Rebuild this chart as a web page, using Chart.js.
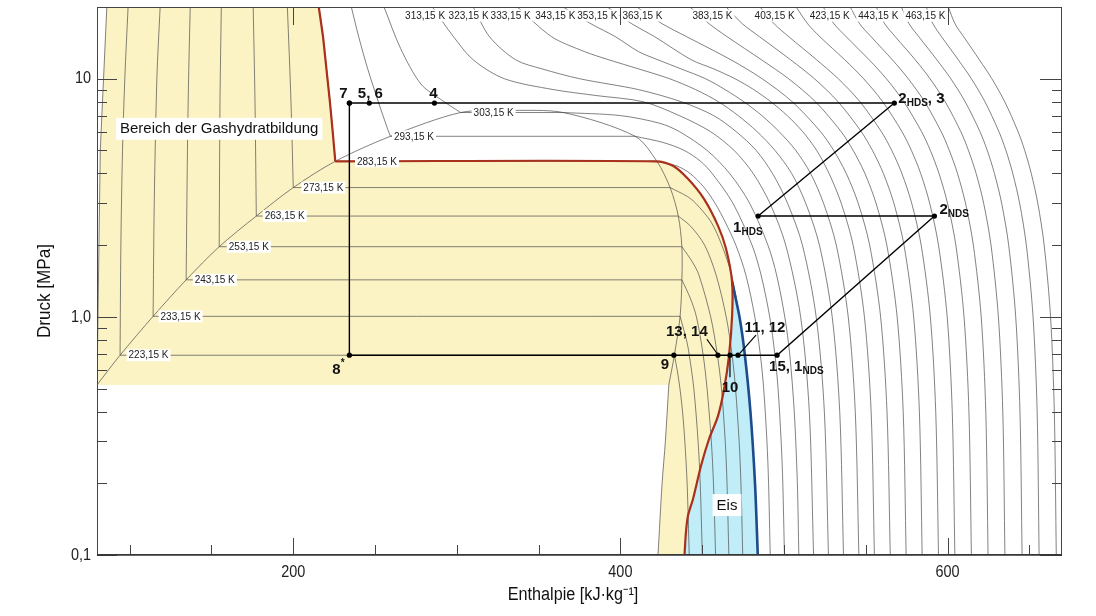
<!DOCTYPE html>
<html>
<head>
<meta charset="utf-8">
<script src="https://cdn.jsdelivr.net/npm/chart.js@4.4.1/dist/chart.umd.min.js"></script>
<style>
  html, body { margin: 0; padding: 0; background: #fff; }
</style>
</head>
<body>
<canvas id="chart" width="1096" height="616"></canvas>
<script>
// axis ticks
const xTicks = [200, 400, 600];
const xMinorTicks = [100, 150, 250, 300, 350, 450, 500, 550, 650];
const yTicks = [0.1, 1, 10];
const yTickLabels = ['0,1', '1,0', '10'];
const yMinorTicks = [0.2, 0.3, 0.4, 0.5, 0.6, 0.7, 0.8, 0.9, 2, 3, 4, 5, 6, 7, 8, 9];

// phase boundaries, points are [enthalpy kJ/kg, pressure MPa]
const satLiquid = [[80, 0.518], [94.1, 0.69], [114.3, 1.005], [134.5, 1.43], [154.7, 1.97], [177.4, 2.65], [200, 3.49], [225.7, 4.5], [259.4, 5.73], [302.3, 7.21], [332, 7.377]];
const satVapour = [[332, 7.377], [365, 7.21], [409, 5.73], [422.3, 4.5], [430.4, 3.49], [435.4, 2.65], [437.6, 1.97], [437.6, 1.43], [436.5, 1.005], [433, 0.69], [429.6, 0.518]];
const sublimation = [[429.6, 0.518], [427.5, 0.3], [425.5, 0.2], [423, 0.1]];
const meltLine = [[80, 0.518], [82, 5], [86, 20]];
const hydrateLine = [[215.6, 20], [218.2, 15], [220.9, 10], [222.4, 8], [224.1, 6], [225.7, 4.5], [421.7, 4.5], [432.1, 4.31], [441.3, 3.8], [451.1, 3.13], [459.7, 2.41], [464.6, 1.93], [468.3, 1.40], [468.3, 1.01], [466.4, 0.686], [463.4, 0.498], [459.7, 0.384], [454.2, 0.307], [449.3, 0.237], [444.4, 0.172], [441.3, 0.146], [440.1, 0.125], [439.2, 0.1]];
const iceLine = [[468.3, 1.40], [472.8, 1.0], [476, 0.7], [479.5, 0.4], [482.3, 0.2], [484, 0.1]];

// subcritical isotherms 223,15 ... 303,15 K: liquid branch, vapour branch
const liq223 = [[99, 20], [97, 10], [95.6, 5], [94.6, 2], [94.1, 0.69]];
const liq233 = [[118.6, 20], [116.6, 10], [115, 3], [114.3, 1.005]];
const liq243 = [[137, 20], [136, 10], [135.3, 5], [134.5, 1.43]];
const liq253 = [[156, 20], [155.2, 8], [154.7, 1.97]];
const liq263 = [[175.5, 20], [176.6, 8], [177.4, 2.65]];
const liq273 = [[196.4, 20], [198.6, 8], [200, 3.49]];
const liq283 = [[215.6, 20], [218.2, 15], [220.9, 10], [222.4, 8], [224.1, 6], [225.7, 4.5]];
const liq293 = [[235.5, 20], [240, 15], [245.5, 11], [252, 8], [257.5, 6.2], [259.4, 5.73]];
const liq303 = [[255.5, 20], [265.6, 13.4], [278, 9.5], [290, 8.2], [302.3, 7.21]];

const vap223 = [[433, 0.69], [434.7, 0.6], [436.4, 0.5], [438, 0.4], [439.4, 0.3], [440.8, 0.2], [442.1, 0.1]];
const vap233 = [[436.5, 1.005], [440.4, 0.8], [442, 0.7], [444.9, 0.5], [447.5, 0.3], [448.8, 0.2], [450.1, 0.1]];
const vap243 = [[437.6, 1.43], [442.7, 1.2], [446.5, 1], [450.5, 0.7], [453, 0.5], [455.6, 0.3], [456.9, 0.2], [458.2, 0.1]];
const vap253 = [[437.6, 1.97], [444, 1.7], [448, 1.5], [455.2, 1], [459.2, 0.7], [461.8, 0.5], [464.1, 0.3], [465.2, 0.2], [466.3, 0.1]];
const vap263 = [[435.4, 2.65], [443, 2.4], [451.5, 2], [458.5, 1.5], [464.7, 1], [468.2, 0.7], [470.4, 0.5], [472.6, 0.3], [473.7, 0.2], [474.8, 0.1]];
const vap273 = [[430.4, 3.49], [441, 3.2], [446, 3], [455.5, 2.5], [462, 2], [468, 1.5], [472.8, 1], [476, 0.7], [478.3, 0.5], [480.8, 0.3], [482.3, 0.2], [484, 0.1]];
const vap283 = [[422.3, 4.5], [434.6, 4.3], [442.6, 4], [451.1, 3.5], [457.9, 3], [464.1, 2.5], [470.6, 2], [476.7, 1.5], [482.2, 1], [485.5, 0.7], [487.6, 0.5], [489.6, 0.3], [490.6, 0.2], [491.6, 0.1]];
const vap293 = [[409, 5.73], [426, 5.4], [439, 5], [449, 4.5], [456.1, 4], [468.8, 3], [480.5, 2], [486, 1.5], [491.3, 1], [494.4, 0.7], [496.4, 0.5], [498.3, 0.3], [499.3, 0.2], [500.3, 0.1]];
const vap303 = [[365, 7.21], [400, 7], [424, 6.5], [436, 6], [453, 5], [466.8, 4], [479, 3], [490.2, 2], [495.5, 1.5], [500.5, 1], [503.5, 0.7], [506.3, 0.4], [508.2, 0.2], [509.1, 0.1]];

// supercritical isotherms 313,15 ... 353,15 K
const sc313 = [[285, 20], [298, 15], [310, 12], [329, 10], [359, 9], [385, 8.5], [414, 8], [436, 7], [455, 6], [469.5, 5], [481.2, 4], [491.4, 3], [501.1, 2], [510.2, 1], [515.5, 0.4], [518.1, 0.1]];
const sc323 = [[310, 20], [320, 15], [336, 12], [352, 11], [375, 10], [411, 9], [437.3, 8], [457, 7], [470.7, 6], [483, 5], [493, 4], [502.2, 3], [511.3, 2], [519.7, 1], [524.7, 0.4], [527.2, 0.1]];
const sc333 = [[337, 20], [358, 15], [378, 13], [393, 12], [411, 11], [430, 10], [446, 9], [460, 8], [472, 7], [483.5, 6], [494.5, 5], [504.7, 4], [513.3, 3], [521.7, 2], [529.5, 1], [534.1, 0.4], [536.4, 0.1]];
const sc343 = [[365, 20], [382, 17], [397, 15], [411, 13], [423, 12], [437, 11], [452, 10], [464, 9], [475.5, 8], [486.5, 7], [497, 6], [507.2, 5], [516.3, 4], [524.2, 3], [532, 2], [539.3, 1], [543.6, 0.4], [545.8, 0.1]];
const sc353 = [[392, 20], [407, 17], [421, 15], [443.4, 12], [457, 11], [470, 10], [481.5, 9], [492, 8], [502, 7], [511.4, 6], [520, 5], [527.6, 4], [535, 3], [542.3, 2], [549.2, 1], [553.3, 0.4], [555.3, 0.1]];

// supercritical isotherms 363,15 ... 463,15 K, enthalpy at these pressures
const scPressures = [20, 17, 15, 12, 10, 8, 6, 5, 4, 3, 2, 1, 0.4, 0.1];
const h363 = [410, 425.6, 440.6, 467.6, 486.6, 505.1, 522.3, 530.4, 538.1, 545.4, 552.4, 559.1, 563, 565];
const h373 = [442.5, 454.3, 465.3, 486.3, 502.8, 519.3, 534.9, 542.3, 549.5, 556.3, 562.9, 569.2, 572.9, 574.7];
const h383 = [464.6, 474.6, 485.1, 504.1, 518.6, 533.1, 547.2, 554.1, 560.8, 567.2, 573.4, 579.3, 582.8, 584.5];
const h393 = [485.4, 494, 503, 520, 533.2, 546.5, 559.5, 565.9, 572.1, 578.1, 583.9, 589.5, 592.8, 594.5];
const h403 = [507.5, 514.5, 522, 537.2, 548.7, 560.4, 572.1, 577.9, 583.6, 589.1, 594.5, 599.8, 602.9, 604.5];
const h413 = [524, 530.6, 538.1, 552.1, 562.6, 573.3, 584.1, 589.5, 594.8, 600, 605.1, 610.1, 613.1, 614.6];
const h423 = [540.5, 546.3, 553.3, 566.3, 576, 586, 596.1, 601.1, 606.1, 611, 615.8, 620.6, 623.4, 624.8];
const h433 = [556.4, 561.6, 568.1, 580.3, 589.3, 598.6, 608.1, 612.8, 617.5, 622.1, 626.6, 631.1, 633.8, 635.1];
const h443 = [571.8, 576.5, 582.5, 593.5, 602, 610.8, 619.8, 624.3, 628.7, 633.1, 637.4, 641.7, 644.3, 645.6];
const h453 = [587, 591.1, 596.4, 606.6, 614.6, 622.9, 631.4, 635.7, 639.9, 644.1, 648.2, 652.3, 654.8, 656];
const h463 = [600.5, 604.6, 609.9, 619.5, 627.1, 635, 643.1, 647.2, 651.2, 655.2, 659.1, 663, 665.3, 666.5];

// process cycle, state points in drawing order (last one closes the loop)
const cycleH = [234.3, 246.5, 286.3, 567.5, 484.2, 592, 495.8, 471.9, 467, 459.6, 432.7, 234.3, 234.3];
const cycleP = [7.9, 7.9, 7.9, 7.9, 2.65, 2.65, 0.69, 0.69, 0.69, 0.69, 0.69, 0.69, 7.9];

// isotherm labels
const isoLabelText = ['223,15 K', '233,15 K', '243,15 K', '253,15 K', '263,15 K', '273,15 K', '283,15 K', '293,15 K', '303,15 K',
  '313,15 K', '323,15 K', '333,15 K', '343,15 K', '353,15 K', '363,15 K', '383,15 K', '403,15 K', '423,15 K', '443,15 K', '463,15 K'];
const isoLabelH = [111.5, 131.1, 152.0, 172.8, 194.8, 218.4, 251.2, 273.8, 322.5,
  280.6, 307.2, 332.9, 360.2, 385.9, 413.5, 456.3, 494.3, 528, 557.7, 586.5];
const isoLabelP = [0.69, 1.005, 1.43, 1.97, 2.65, 3.49, 4.5, 5.73, 7.21,
  18.4, 18.4, 18.4, 18.4, 18.4, 18.4, 18.4, 18.4, 18.4, 18.4, 18.4];

const regionText = ['Bereich der Gashydratbildung', 'Eis'];
const regionH = [154.7, 465.2];
const regionP = [6.16, 0.162];

const SANS = '"Liberation Sans", Arial, sans-serif';
const ISO = 'rgba(70,70,70,0.85)';
const RED = '#a8301c';
const BLUE = '#1c4c8c';

const datasets = [];
const toXY = arr => arr.map(([h, p]) => ({ x: h, y: p }));
function curve(arr, opts) {
    datasets.push(Object.assign({
        data: toXY(arr),
        showLine: true,
        pointRadius: 0,
        borderColor: ISO,
        borderWidth: 0.8,
        tension: 0.3,
        fill: false,
        order: 5
    }, opts || {}));
}

// filled areas
curve([...meltLine, ...hydrateLine, ...sublimation.slice().reverse(), meltLine[0]],
    { fill: 'shape', backgroundColor: '#fcf3c4', borderColor: 'rgba(0,0,0,0)', borderWidth: 0, tension: 0, order: 20 });
curve([...hydrateLine.slice(12), ...iceLine.slice().reverse()],
    { fill: 'shape', backgroundColor: '#c0edf7', borderColor: 'rgba(0,0,0,0)', borderWidth: 0, tension: 0, order: 19 });

// saturation lines
curve(satLiquid);
curve(satVapour);
curve(sublimation);
curve(meltLine, { tension: 0 });

// isotherms
const subLiquid = [liq223, liq233, liq243, liq253, liq263, liq273, liq283, liq293, liq303];
const subVapour = [vap223, vap233, vap243, vap253, vap263, vap273, vap283, vap293, vap303];
subLiquid.forEach((liq, i) => {
    const vap = subVapour[i];
    curve(liq);
    curve([liq[liq.length - 1], vap[0]], { tension: 0 });
    curve(vap);
});
[sc313, sc323, sc333, sc343, sc353].forEach(a => curve(a));
[h363, h373, h383, h393, h403, h413, h423, h433, h443, h453, h463].forEach(hs => {
    curve(hs.map((h, j) => [h, scPressures[j]]));
});

// hydrate and ice boundaries
curve(hydrateLine.slice(0, 6), { borderColor: RED, borderWidth: 2.2, tension: 0, order: 3 });
curve(hydrateLine.slice(5), { borderColor: RED, borderWidth: 2.2, tension: 0.3, order: 3 });
curve(iceLine, { borderColor: BLUE, borderWidth: 2.6, order: 3 });

// process
datasets.push({
    data: cycleH.map((h, i) => ({ x: h, y: cycleP[i] })),
    showLine: true,
    borderColor: '#000',
    borderWidth: 1.4,
    tension: 0,
    pointRadius: 2.6,
    pointBackgroundColor: '#000',
    pointBorderWidth: 0,
    order: 1
});

// text pieces: [text, kind] kind 0 normal, 1 subscript, 2 superscript
const cycleLabelParts = [
    [['7']], [['5, 6']], [['4']], [['2'], ['HDS', 1], [', 3']], [['1'], ['HDS', 1]], [['2'], ['NDS', 1]],
    [['15, 1'], ['NDS', 1]], [['11, 12']], [['10']], [['13, 14']], [['9']], [['8'], ['*', 2]]
];
const cycleLabelPlace = [[-6, -5, 'c'], [1, -5, 'c'], [-1, -5, 'c'], [4, 0, 'l'], [-25, 16, 'l'], [5, -2, 'l'],
    [-8, 16, 'l'], [27, -23, 'c'], [0, 37, 'c'], [-31, -19, 'c'], [-9, 14, 'c'], [-17, 19, 'l']];
const leaders = [[9, -11, -16, -1, -2], [7, 18, -20, 2, -2], [8, 0, 2, 0, 22]];

function drawParts(ctx, parts, x, y, align) {
    const big = 'bold 15px ' + SANS;
    const small = 'bold 10px ' + SANS;
    let w = 0;
    parts.forEach(([t, k]) => { ctx.font = k ? small : big; w += ctx.measureText(t).width; });
    let cx = align === 'c' ? x - w / 2 : x;
    ctx.textAlign = 'left';
    ctx.textBaseline = 'alphabetic';
    parts.forEach(([t, k]) => {
        ctx.font = k ? small : big;
        const dy = k === 1 ? 3 : (k === 2 ? -8 : 0);
        ctx.fillText(t, cx, y + dy);
        cx += ctx.measureText(t).width;
    });
}

// condensed text (the axis font of the original is a narrow sans)
function narrowText(ctx, t, x, y, align, squeeze) {
    ctx.save();
    ctx.translate(x, y);
    ctx.scale(squeeze, 1);
    ctx.textAlign = align;
    ctx.fillText(t, 0, 0);
    ctx.restore();
}

const decor = {
    id: 'decor',
    afterDatasetsDraw(chart) {
        const { ctx, chartArea: a, scales: { x, y } } = chart;
        ctx.save();

        // isotherm labels
        ctx.font = '10px ' + SANS;
        ctx.textAlign = 'center';
        ctx.textBaseline = 'middle';
        isoLabelText.forEach((t, i) => {
            const px = x.getPixelForValue(isoLabelH[i]);
            const py = y.getPixelForValue(isoLabelP[i]);
            const w = ctx.measureText(t).width + 4;
            ctx.fillStyle = '#fff';
            ctx.fillRect(px - w / 2, py - 6, w, 12);
            ctx.fillStyle = '#222';
            ctx.fillText(t, px, py + 0.5);
        });

        // region labels
        ctx.font = '15px ' + SANS;
        regionText.forEach((t, i) => {
            const px = x.getPixelForValue(regionH[i]);
            const py = y.getPixelForValue(regionP[i]);
            const w = ctx.measureText(t).width + 8;
            ctx.fillStyle = '#fff';
            ctx.fillRect(px - w / 2, py - 11, w, 22);
            ctx.fillStyle = '#111';
            ctx.fillText(t, px, py + 0.5);
        });

        // leader lines
        ctx.strokeStyle = '#000';
        ctx.lineWidth = 1.2;
        leaders.forEach(([i, x1, y1, x2, y2]) => {
            const px = x.getPixelForValue(cycleH[i]);
            const py = y.getPixelForValue(cycleP[i]);
            ctx.beginPath();
            ctx.moveTo(px + x1, py + y1);
            ctx.lineTo(px + x2, py + y2);
            ctx.stroke();
        });

        // state point labels
        ctx.fillStyle = '#111';
        cycleLabelParts.forEach((parts, i) => {
            const [dx, dy, al] = cycleLabelPlace[i];
            const px = x.getPixelForValue(cycleH[i]);
            const py = y.getPixelForValue(cycleP[i]);
            drawParts(ctx, parts, px + dx, py + dy, al);
        });

        // frame and inner ticks
        ctx.strokeStyle = '#444';
        ctx.lineWidth = 1;
        ctx.strokeRect(a.left + 0.5, a.top + 0.5, a.right - a.left - 1, a.bottom - a.top - 1);
        const seg = (x1, y1, x2, y2) => { ctx.beginPath(); ctx.moveTo(x1, y1); ctx.lineTo(x2, y2); ctx.stroke(); };
        xTicks.forEach(v => {
            const px = Math.round(x.getPixelForValue(v)) + 0.5;
            seg(px, a.bottom, px, a.bottom - 17);
            seg(px, a.top, px, a.top + 18);
        });
        xMinorTicks.forEach(v => {
            const px = Math.round(x.getPixelForValue(v)) + 0.5;
            seg(px, a.bottom, px, a.bottom - 10);
        });
        yTicks.forEach(v => {
            const py = Math.round(y.getPixelForValue(v)) + 0.5;
            seg(a.left, py, a.left + 20, py);
            seg(a.right, py, a.right - 22, py);
        });
        yMinorTicks.forEach(v => {
            const py = Math.round(y.getPixelForValue(v)) + 0.5;
            seg(a.left, py, a.left + 10, py);
            seg(a.right, py, a.right - 10, py);
        });
        ctx.lineWidth = 1.6;
        ctx.strokeStyle = '#333';
        seg(a.left, a.bottom, a.right, a.bottom);

        // tick labels
        ctx.fillStyle = '#222';
        ctx.font = '17px ' + SANS;
        ctx.textBaseline = 'middle';
        xTicks.forEach(v => narrowText(ctx, String(v), x.getPixelForValue(v), a.bottom + 17, 'center', 0.85));
        yTicks.forEach((v, i) => narrowText(ctx, yTickLabels[i], a.left - 6, y.getPixelForValue(v), 'right', 0.85));

        // axis titles
        ctx.fillStyle = '#111';
        ctx.font = '18px ' + SANS;
        narrowText(ctx, 'Enthalpie [kJ·kg⁻¹]', 573, 595, 'center', 0.9);
        ctx.save();
        ctx.translate(45, 291);
        ctx.rotate(-Math.PI / 2);
        narrowText(ctx, 'Druck [MPa]', 0, 0, 'center', 0.95);
        ctx.restore();

        ctx.restore();
    }
};

new Chart(document.getElementById('chart').getContext('2d'), {
    type: 'scatter',
    data: { datasets },
    options: {
        responsive: false,
        animation: false,
        events: [],
        layout: { padding: { left: 0, right: 34, top: 7, bottom: 0 } },
        plugins: { legend: { display: false }, tooltip: { enabled: false } },
        scales: {
            x: {
                type: 'linear',
                min: 80,
                max: 670,
                afterFit: s => { s.height = 61; s.paddingLeft = 0; s.paddingRight = 0; },
                afterBuildTicks: s => { s.ticks = xTicks.map(v => ({ value: v })); },
                grid: { display: false, drawTicks: false },
                border: { display: false },
                ticks: { display: false }
            },
            y: {
                type: 'logarithmic',
                min: 0.1,
                max: 20,
                afterFit: s => { s.width = 97; s.paddingTop = 0; s.paddingBottom = 0; },
                afterBuildTicks: s => { s.ticks = yTicks.map(v => ({ value: v })); },
                grid: { display: false, drawTicks: false },
                border: { display: false },
                ticks: { display: false }
            }
        }
    },
    plugins: [decor]
});
</script>
</body>
</html>
